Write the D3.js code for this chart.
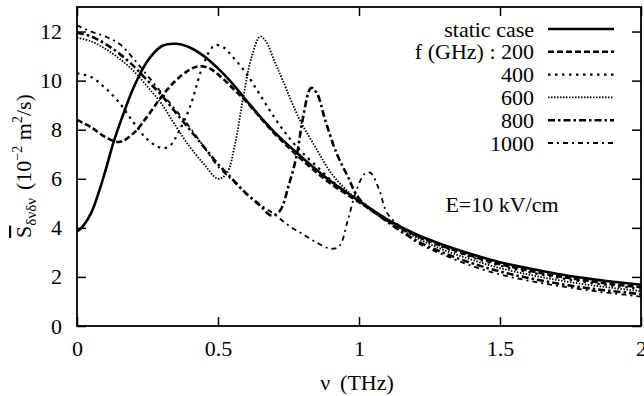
<!DOCTYPE html>
<html>
<head>
<meta charset="utf-8">
<script src="https://cdn.jsdelivr.net/npm/d3@7"></script>
<style>
  body { margin: 0; background: #fff; }
</style>
</head>
<body>
<div id="container"></div>
<script>
var width = 644,
    height = 396,
    margin = { left: 77, top: 7, right: 3, bottom: 70 },
    gWidth = width - margin.left - margin.right,
    gHeight = height - margin.top - margin.bottom;

// data (nu in THz, S in 10^-2 m^2/s)
var staticNu = [0, 0.02, 0.05, 0.08, 0.1, 0.13, 0.16, 0.2, 0.25, 0.3, 0.35, 0.4, 0.45, 0.5, 0.55, 0.6, 0.7, 0.8, 0.9, 1.0, 1.1, 1.2, 1.3, 1.4, 1.5, 1.6, 1.7, 1.8, 1.9, 2.0];
var staticS = [3.85, 4.05, 4.6, 5.55, 6.3, 7.5, 8.5, 9.7, 10.8, 11.4, 11.5, 11.35, 11.0, 10.5, 9.9, 9.2, 7.9, 6.85, 5.9, 5.1, 4.35, 3.75, 3.3, 2.92, 2.6, 2.35, 2.13, 1.95, 1.8, 1.68];

var f200Nu = [0, 0.05, 0.1, 0.15, 0.2, 0.25, 0.3, 0.35, 0.4, 0.43, 0.47, 0.52, 0.56, 0.6, 0.7, 0.8, 0.9, 1.0, 1.1, 1.2, 1.3, 1.4, 1.5, 1.6, 1.7, 1.8, 1.9, 2.0];
var f200S = [8.4, 8.1, 7.7, 7.5, 7.85, 8.55, 9.35, 10.0, 10.45, 10.58, 10.5, 10.05, 9.6, 9.15, 7.85, 6.75, 5.8, 5.05, 4.3, 3.7, 3.24, 2.85, 2.52, 2.26, 2.04, 1.86, 1.7, 1.58];

var f400Nu = [0, 0.05, 0.1, 0.15, 0.2, 0.25, 0.3, 0.33, 0.36, 0.4, 0.44, 0.47, 0.49, 0.52, 0.55, 0.6, 0.65, 0.7, 0.75, 0.8, 0.86, 0.9, 0.95, 1.0, 1.1, 1.2, 1.3, 1.4, 1.5, 1.6, 1.7, 1.8, 1.9, 2.0];
var f400S = [10.3, 10.15, 9.7, 9.1, 8.3, 7.6, 7.25, 7.35, 7.9, 8.9, 10.4, 11.2, 11.45, 11.35, 11.0, 10.3, 9.4, 8.5, 7.7, 7.05, 6.4, 5.95, 5.5, 5.1, 4.3, 3.68, 3.2, 2.8, 2.46, 2.2, 1.98, 1.8, 1.64, 1.52];

var f600Nu = [0, 0.05, 0.1, 0.15, 0.2, 0.25, 0.3, 0.35, 0.4, 0.45, 0.5, 0.53, 0.56, 0.59, 0.62, 0.65, 0.67, 0.7, 0.73, 0.79, 0.85, 0.9, 0.95, 1.0, 1.1, 1.2, 1.3, 1.4, 1.5, 1.6, 1.7, 1.8, 1.9, 2.0];
var f600S = [11.75, 11.6, 11.3, 10.9, 10.4, 9.75, 9.05, 8.15, 7.3, 6.6, 6.0, 6.2, 7.4, 9.35, 11.0, 11.8, 11.6, 10.8, 10.0, 8.4, 7.2, 6.25, 5.6, 5.1, 4.3, 3.62, 3.1, 2.7, 2.36, 2.1, 1.88, 1.7, 1.55, 1.42];

var f800Nu = [0, 0.05, 0.1, 0.15, 0.2, 0.25, 0.3, 0.35, 0.4, 0.45, 0.5, 0.55, 0.6, 0.65, 0.69, 0.72, 0.75, 0.78, 0.8, 0.83, 0.85, 0.88, 0.92, 0.96, 1.0, 1.1, 1.2, 1.3, 1.4, 1.5, 1.6, 1.7, 1.8, 1.9, 2.0];
var f800S = [11.95, 11.8, 11.5, 11.1, 10.6, 10.0, 9.4, 8.7, 8.0, 7.3, 6.6, 6.0, 5.4, 4.9, 4.5, 4.7, 5.7, 7.0, 8.4, 9.7, 9.5, 8.4, 7.05, 6.1, 5.2, 4.25, 3.5, 2.98, 2.56, 2.22, 1.96, 1.74, 1.56, 1.42, 1.3];

var f1000Nu = [0, 0.05, 0.1, 0.15, 0.2, 0.25, 0.3, 0.35, 0.4, 0.45, 0.5, 0.55, 0.6, 0.65, 0.7, 0.75, 0.8, 0.85, 0.9, 0.93, 0.96, 0.99, 1.02, 1.04, 1.07, 1.1, 1.15, 1.2, 1.3, 1.4, 1.5, 1.6, 1.7, 1.8, 1.9, 2.0];
var f1000S = [12.25, 12.0, 11.8, 11.5, 10.9, 10.2, 9.5, 8.8, 8.1, 7.3, 6.5, 5.95, 5.4, 4.95, 4.55, 4.1, 3.75, 3.4, 3.15, 3.25, 4.3, 5.5, 6.2, 6.25, 5.6, 4.6, 4.0, 3.45, 2.9, 2.45, 2.1, 1.85, 1.65, 1.48, 1.33, 1.2];

var legendLabels = ['static case', 'f (GHz) : 200', '400', '600', '800', '1000'];
var xTicks = [0, 0.5, 1, 1.5, 2];
var yTicks = [0, 2, 4, 6, 8, 10, 12];

var series = [
    { nu: staticNu, s: staticS, dash: null, w: 2.6 },
    { nu: f200Nu, s: f200S, dash: '6,3', w: 2.6 },
    { nu: f400Nu, s: f400S, dash: '2.5,4.5', w: 2.2 },
    { nu: f600Nu, s: f600S, dash: '1.5,1.5', w: 1.8 },
    { nu: f800Nu, s: f800S, dash: '7,3,2.5,3', w: 2.6 },
    { nu: f1000Nu, s: f1000S, dash: '5,4,2,4', w: 1.8 }
];

var serif = 'Liberation Serif';

var svg = d3.select('#container')
    .append('svg')
    .attr('width', width)
    .attr('height', height);
var g = svg.append('g')
    .attr('transform', 'translate(' + margin.left + ',' + margin.top + ')');

var scaleX = d3.scaleLinear().domain([0, 2]).range([0, gWidth]);
var scaleY = d3.scaleLinear().domain([0, 13]).range([gHeight, 0]);

var line = d3.line()
    .x(function(d) { return scaleX(d[0]); })
    .y(function(d) { return scaleY(d[1]); })
    .curve(d3.curveCatmullRom.alpha(0.5));

g.append('defs').append('clipPath').attr('id', 'clip')
    .append('rect').attr('width', gWidth).attr('height', gHeight);

var curves = g.append('g').attr('clip-path', 'url(#clip)');
series.forEach(function(sr) {
    curves.append('path')
        .attr('d', line(d3.zip(sr.nu, sr.s)))
        .attr('fill', 'none')
        .attr('stroke', '#000')
        .attr('stroke-width', sr.w)
        .attr('stroke-dasharray', sr.dash);
});

// axes with inward ticks, mirrored on top and right
var tickLen = 9;
g.append('g')
    .attr('transform', 'translate(0,' + gHeight + ')')
    .call(d3.axisBottom(scaleX).tickValues(xTicks).tickSize(-tickLen).tickPadding(14).tickFormat(d3.format('')))
    .call(function(a) { a.select('.domain').remove(); });
g.append('g')
    .call(d3.axisTop(scaleX).tickValues(xTicks).tickSize(-tickLen).tickFormat(''))
    .call(function(a) { a.select('.domain').remove(); });
g.append('g')
    .call(d3.axisLeft(scaleY).tickValues(yTicks).tickSize(-tickLen).tickPadding(15))
    .call(function(a) { a.select('.domain').remove(); });
g.append('g')
    .attr('transform', 'translate(' + gWidth + ',0)')
    .call(d3.axisRight(scaleY).tickValues(yTicks).tickSize(-tickLen).tickFormat(''))
    .call(function(a) { a.select('.domain').remove(); });

g.selectAll('.tick line').attr('stroke', '#000').attr('stroke-width', 1.5);
g.selectAll('.tick text')
    .attr('font-family', serif)
    .attr('font-size', 22)
    .attr('fill', '#000');

g.append('rect')
    .attr('width', gWidth)
    .attr('height', gHeight)
    .attr('fill', 'none')
    .attr('stroke', '#000')
    .attr('stroke-width', 1.8);

// legend
var legend = svg.append('g');
legendLabels.forEach(function(lbl, i) {
    var y = 29 + i * 22.8;
    legend.append('text')
        .attr('x', 534)
        .attr('y', y + 7.5)
        .attr('text-anchor', 'end')
        .attr('font-family', serif)
        .attr('font-size', 22)
        .text(lbl);
    legend.append('line')
        .attr('x1', 548).attr('x2', 614)
        .attr('y1', y).attr('y2', y)
        .attr('stroke', '#000')
        .attr('stroke-width', series[i].w)
        .attr('stroke-dasharray', series[i].dash);
});

svg.append('text')
    .attr('x', 502)
    .attr('y', 212)
    .attr('text-anchor', 'middle')
    .attr('font-family', serif)
    .attr('font-size', 22)
    .text('E=10 kV/cm');

// x label
var xl = svg.append('text')
    .attr('x', 357)
    .attr('y', 390)
    .attr('text-anchor', 'middle')
    .attr('font-family', serif)
    .attr('font-size', 22);
xl.append('tspan').text('\u03bd');
xl.append('tspan').attr('dx', 10).text('(THz)');

// y label
var yl = svg.append('text')
    .attr('transform', 'translate(31,166) rotate(-90)')
    .attr('text-anchor', 'middle')
    .attr('font-family', serif)
    .attr('font-size', 22);
yl.append('tspan').style('text-decoration', 'overline').text('S');
yl.append('tspan').attr('dy', 5).attr('font-size', 15).text('\u03b4\u03bd\u03b4\u03bd');
yl.append('tspan').attr('dy', -5).attr('dx', 8).text('(10');
yl.append('tspan').attr('dy', -9).attr('font-size', 14).text('\u22122');
yl.append('tspan').attr('dy', 9).text(' m');
yl.append('tspan').attr('dy', -9).attr('font-size', 14).text('2');
yl.append('tspan').attr('dy', 9).text('/s)');
</script>
</body>
</html>
